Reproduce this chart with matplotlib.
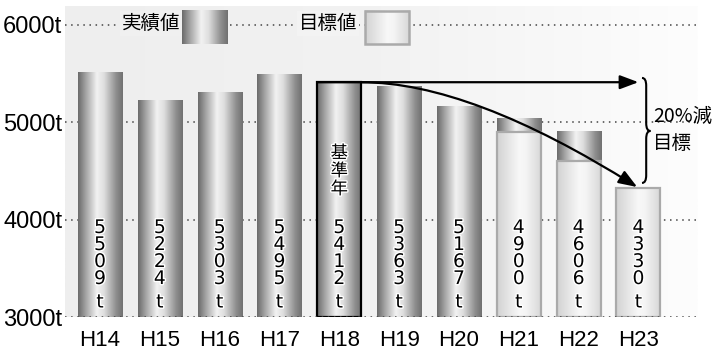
import numpy as np
import matplotlib
matplotlib.use("Agg")
import matplotlib.pyplot as plt
import matplotlib.patheffects as pe
from matplotlib import font_manager
from matplotlib.colors import LinearSegmentedColormap
from matplotlib.patches import Rectangle, FancyArrowPatch, PathPatch
from matplotlib.path import Path

# reduction results (t) by fiscal year
years = ["H14", "H15", "H16", "H17", "H18", "H19", "H20", "H21", "H22", "H23"]
actual = [5509, 5224, 5303, 5495, 5412, 5363, 5167, 5040, 4910]   # H14..H22
target = [4900, 4606, 4330]                                      # H21..H23
base_idx = 4
y_ticks = [3000, 4000, 5000, 6000]
y_labels = ["3000t", "4000t", "5000t", "6000t"]

jp = ["Noto Sans CJK JP", "DejaVu Sans"]
names = {f.name for f in font_manager.fontManager.ttflist}
tick_font = "Liberation Sans Narrow" if "Liberation Sans Narrow" in names else "Liberation Sans"

gray_cmap = LinearSegmentedColormap.from_list(
    "cyl", [(0.0, "#6a6a6a"), (0.18, "#a6a6a6"), (0.42, "#f2f2f2"),
            (0.58, "#dedede"), (0.85, "#8e8e8e"), (1.0, "#707070")])
white_cmap = LinearSegmentedColormap.from_list(
    "cylw", [(0.0, "#d2d2d2"), (0.5, "#f8f8f8"), (0.65, "#f4f4f4"), (1.0, "#d6d6d6")])
bg_cmap = LinearSegmentedColormap.from_list("bg", ["#eeeeee", "#f2f2f2", "#fdfdfd"])

BAR_W = 0.736
Y0 = 3000
PX = 0.72  # points per pixel at 100 dpi

fig = plt.figure(figsize=(7.15, 3.52), dpi=100)
ax = fig.add_axes([0.0909, 0.0994, 0.884, 0.8836])


def grad_rect(x0, x1, y0, y1, cmap, edge=None, lw=0.0, z=2):
    g = np.linspace(0, 1, 256).reshape(1, -1)
    ax.imshow(g, cmap=cmap, extent=(x0, x1, y0, y1), aspect="auto",
              interpolation="bilinear", zorder=z)
    if edge is not None:
        ax.add_patch(Rectangle((x0, y0), x1 - x0, y1 - y0, fill=False,
                               ec=edge, lw=lw, zorder=z + 0.1))


# background panel
ax.imshow(np.linspace(0, 1, 256).reshape(1, -1), cmap=bg_cmap, extent=(0, 1, 0, 1),
          transform=ax.transAxes, aspect="auto", zorder=0)

# dotted grid
for t in y_ticks:
    ax.axhline(t, color="#444444", lw=1.1, ls=(0, (1, 3)), zorder=1 if t > Y0 else 5)

# actual bars
for i, v in enumerate(actual):
    edge = "black" if i == base_idx else None
    grad_rect(i - BAR_W / 2, i + BAR_W / 2, Y0, v, gray_cmap, edge=edge, lw=1.6, z=2)

# target bars
for k, v in enumerate(target):
    i = len(years) - len(target) + k
    grad_rect(i - BAR_W / 2, i + BAR_W / 2, Y0, v, white_cmap, edge="#aaaaaa", lw=1.6, z=3)

# vertical value labels, one character per line
halo = [pe.withStroke(linewidth=2, foreground="white")]
shown = actual[:len(years) - len(target)] + target
for i, v in enumerate(shown):
    ax.annotate("t", xy=(i, Y0), xytext=(0, 9.5 * PX), textcoords="offset points",
                ha="center", va="baseline", fontsize=13.5, family="DejaVu Sans",
                path_effects=halo, zorder=6)
    for k, ch in enumerate(reversed(str(v))):
        ax.annotate(ch, xy=(i, Y0), xytext=(0, (33 + 17 * k) * PX),
                    textcoords="offset points", ha="center", va="baseline",
                    fontsize=13.5, family="DejaVu Sans", path_effects=halo, zorder=6)

for k, ch in enumerate("基準年"):
    ax.annotate(ch, xy=(base_idx, Y0), xytext=(0, (164 - 18 * k) * PX),
                textcoords="offset points", ha="center", va="center",
                fontsize=12.5, family=jp, path_effects=halo, zorder=6)

# arrows from the base year
base = actual[base_idx]
goal = target[-1]
n_last = len(years) - 1
ax.add_patch(FancyArrowPatch((base_idx - BAR_W / 2, base), (n_last, base),
                             arrowstyle="-|>,head_length=0.8,head_width=0.3",
                             mutation_scale=14, lw=1.6, color="black",
                             shrinkA=0, shrinkB=0, zorder=7))
curve = Path([(base_idx + BAR_W / 2, base), (6.19, base), (n_last - 0.02, goal + 5)],
             [Path.MOVETO, Path.CURVE3, Path.CURVE3])
ax.add_patch(FancyArrowPatch(path=curve,
                             arrowstyle="-|>,head_length=0.8,head_width=0.3",
                             mutation_scale=14, lw=1.6, color="black", zorder=7))

# brace and note
x0, xb, xt = 9.06, 9.13, 9.20
ytop, ybot, ymid, dy = 5456, 4377, 4911, 80
brace = Path([(x0, ytop), (xb, ytop), (xb, ytop - dy),
              (xb, ymid + dy), (xb, ymid), (xt, ymid),
              (xb, ymid), (xb, ymid - dy),
              (xb, ybot + dy), (xb, ybot), (x0, ybot)],
             [Path.MOVETO, Path.CURVE3, Path.CURVE3,
              Path.LINETO, Path.CURVE3, Path.CURVE3,
              Path.CURVE3, Path.CURVE3,
              Path.LINETO, Path.CURVE3, Path.CURVE3])
ax.add_patch(PathPatch(brace, fill=False, lw=1.5, ec="black", zorder=7, clip_on=False))
ax.text(9.25, 5060, "20%減", ha="left", va="center", fontsize=14, family=jp, clip_on=False)
ax.text(9.25, 4783, "目標", ha="left", va="center", fontsize=14, family=jp, clip_on=False)

# legend
grad_rect(1.371, 2.124, 5805, 6144, gray_cmap, z=4)
grad_rect(4.425, 5.167, 5805, 6144, white_cmap, edge="#aaaaaa", lw=1.8, z=4)
ax.text(1.34, 6015, "実績値", ha="right", va="center", fontsize=14, family=jp, zorder=4,
        bbox=dict(boxstyle="square,pad=0.1", fc="#f0f0f0", ec="none"))
ax.text(4.30, 6015, "目標値", ha="right", va="center", fontsize=14, family=jp, zorder=4,
        bbox=dict(boxstyle="square,pad=0.1", fc="#f3f3f3", ec="none"))

ax.set_xlim(-0.585, 9.98)
ax.set_ylim(3000, 6195)
ax.set_xticks(range(len(years)))
ax.set_xticklabels(years, family=tick_font, fontsize=16)
ax.set_yticks(y_ticks)
ax.set_yticklabels(y_labels, family=tick_font, fontsize=17)
ax.tick_params(length=0)
ax.tick_params(axis="x", pad=9)
ax.tick_params(axis="y", pad=2)
for s in ax.spines.values():
    s.set_visible(False)

fig.savefig("out.png", dpi=100, facecolor="white")
